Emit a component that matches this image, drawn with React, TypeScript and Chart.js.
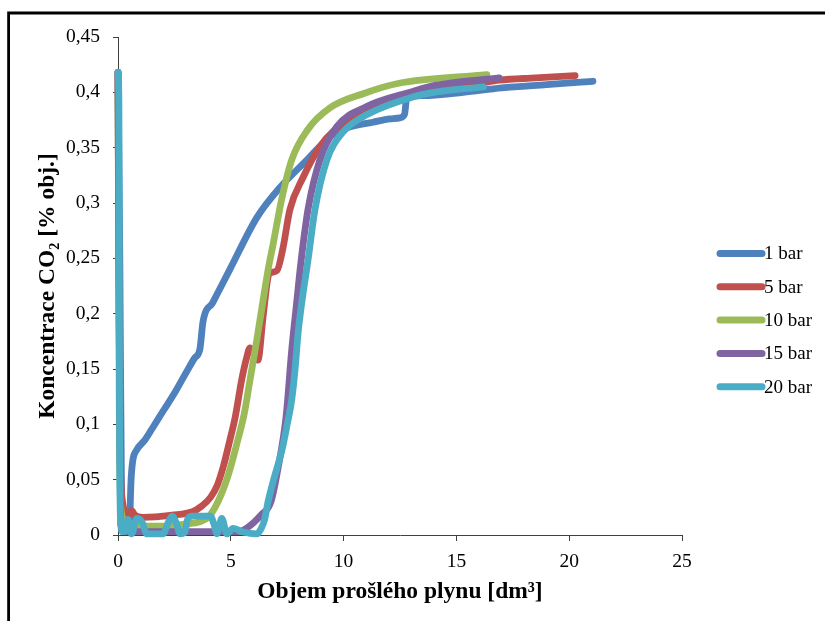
import React, { useEffect, useRef } from 'react';
import { Chart, registerables } from 'chart.js';

Chart.register(...registerables);

const seriesNames = ['1 bar', '5 bar', '10 bar', '15 bar', '20 bar'];
const seriesColors = ['#4F81BD', '#C0504D', '#9BBB59', '#8064A2', '#4BACC6'];

const bar1X = [0, 0.08, 0.15, 0.25, 0.5, 0.58, 0.66, 0.8, 1.2, 1.6, 2.0, 2.5, 3.0, 3.4, 3.63, 3.77, 4.2, 4.96, 6.16, 7.18, 8.38, 9.4, 10.15, 11.3, 12.06, 12.5, 12.7, 12.8, 13.5, 15.3, 17, 19, 21.05];
const bar1Y = [0.418, 0.25, 0.05, 0.01, 0.008, 0.05, 0.068, 0.076, 0.086, 0.099, 0.112, 0.128, 0.146, 0.16, 0.168, 0.193, 0.21, 0.24, 0.287, 0.314, 0.339, 0.36, 0.368, 0.373, 0.376, 0.377, 0.38, 0.395, 0.397, 0.4, 0.404, 0.407, 0.41];

const bar5X = [0, 0.08, 0.2, 0.45, 0.6, 0.75, 1.1, 2.4, 3.3, 3.7, 4.1, 4.4, 4.67, 4.95, 5.2, 5.48, 5.7, 5.85, 6.0, 6.2, 6.43, 6.65, 6.75, 7.05, 7.3, 7.62, 8.2, 8.95, 9.6, 10.5, 12, 14, 16, 16.9, 18.5, 20.26];
const bar5Y = [0.418, 0.1, 0.03, 0.018, 0.022, 0.018, 0.016, 0.018, 0.021, 0.026, 0.034, 0.045, 0.062, 0.085, 0.107, 0.14, 0.16, 0.169, 0.164, 0.158, 0.197, 0.233, 0.237, 0.239, 0.258, 0.294, 0.323, 0.351, 0.366, 0.377, 0.392, 0.402, 0.408, 0.411, 0.413, 0.415];

const bar10X = [0, 0.06, 0.15, 0.4, 1, 2, 3, 3.63, 4.0, 4.43, 4.9, 5.3, 5.6, 5.85, 6.15, 6.43, 6.7, 6.85, 7.25, 7.7, 8.4, 9.4, 10.9, 12.4, 16.35];
const bar10Y = [0.418, 0.1, 0.02, 0.01, 0.008, 0.008, 0.01, 0.012, 0.016, 0.03, 0.055, 0.085, 0.11, 0.14, 0.176, 0.212, 0.245, 0.26, 0.303, 0.339, 0.366, 0.386, 0.399, 0.408, 0.416];

const bar15X = [0, 0.05, 0.12, 0.3, 3, 5.3, 5.76, 6.34, 6.78, 7.1, 7.45, 7.7, 7.93, 8.1, 8.42, 8.95, 9.7, 11.0, 13.1, 14, 16.9];
const bar15Y = [0.418, 0.2, 0.01, 0.003, 0.003, 0.003, 0.007, 0.018, 0.03, 0.061, 0.107, 0.167, 0.212, 0.245, 0.294, 0.339, 0.369, 0.387, 0.401, 0.406, 0.413];

const bar20X = [0, 0.04, 0.07, 0.12, 0.2, 0.3, 0.44, 0.6, 0.84, 1.06, 1.28, 2.0, 2.2, 2.4, 2.6, 2.75, 2.95, 3.1, 3.3, 4.1, 4.25, 4.39, 4.6, 4.83, 5.1, 5.5, 6.15, 6.35, 6.5, 6.65, 6.9, 7.27, 7.5, 7.7, 7.85, 7.98, 8.16, 8.42, 8.73, 9.26, 9.97, 11.04, 13.1, 14, 16.2];
const bar20Y = [0.418, 0.39, 0.1, 0.01, 0.003, 0.003, 0.014, 0.001, 0.015, 0.012, 0.001, 0.001, 0.01, 0.017, 0.01, 0.001, 0.002, 0.015, 0.017, 0.017, 0.01, 0.001, 0.015, 0.001, 0.006, 0.003, 0.001, 0.006, 0.014, 0.03, 0.05, 0.077, 0.1, 0.122, 0.15, 0.182, 0.212, 0.248, 0.294, 0.339, 0.364, 0.38, 0.396, 0.4, 0.405];

const seriesX = [bar1X, bar5X, bar10X, bar15X, bar20X];
const seriesY = [bar1Y, bar5Y, bar10Y, bar15Y, bar20Y];

const xTickValues = [0, 5, 10, 15, 20, 25];
const yTickValues = [0, 0.05, 0.1, 0.15, 0.2, 0.25, 0.3, 0.35, 0.4, 0.45];
const yTickLabels = ['0', '0,05', '0,1', '0,15', '0,2', '0,25', '0,3', '0,35', '0,4', '0,45'];
const xTitle = 'Objem prošlého plynu [dm³]';
const yTitle = 'Koncentrace CO₂ [% obj.]';

const SERIF = "'Liberation Serif', 'Times New Roman', serif";
const AXIS_COLOR = '#404040';

const framePlugin = {
  id: 'frame',
  beforeDraw(chart: any) {
    const ctx = chart.ctx;
    ctx.save();
    ctx.fillStyle = '#ffffff';
    ctx.fillRect(0, 0, chart.width, chart.height);
    ctx.strokeStyle = '#000000';
    ctx.lineWidth = 2.8;
    ctx.beginPath();
    ctx.moveTo(8.6, chart.height + 5);
    ctx.lineTo(8.6, 13);
    ctx.lineTo(chart.width + 5, 13);
    ctx.stroke();
    ctx.restore();
  },
};

const legendPlugin = {
  id: 'customLegend',
  afterDraw(chart: any) {
    const ctx = chart.ctx;
    ctx.save();
    const x0 = 720;
    const x1 = 762;
    const yStart = 253.5;
    const gap = 33.3;
    ctx.font = `19px ${SERIF}`;
    ctx.textBaseline = 'middle';
    ctx.textAlign = 'left';
    seriesNames.forEach((name, i) => {
      const y = yStart + i * gap;
      ctx.strokeStyle = seriesColors[i];
      ctx.lineWidth = 7;
      ctx.lineCap = 'round';
      ctx.beginPath();
      ctx.moveTo(x0, y);
      ctx.lineTo(x1, y);
      ctx.stroke();
      ctx.fillStyle = '#000000';
      ctx.fillText(name, 764, y + 1);
    });
    ctx.restore();
  },
};

export default function App() {
  const ref = useRef<HTMLCanvasElement | null>(null);

  useEffect(() => {
    document.body.style.margin = '0';
    const datasets = seriesNames.map((name, i) => ({
      label: name,
      data: seriesX[i].map((x, j) => ({ x, y: seriesY[i][j] })),
      borderColor: seriesColors[i],
      backgroundColor: seriesColors[i],
      borderWidth: 6.8,
      borderCapStyle: 'round' as const,
      borderJoinStyle: 'round' as const,
      pointRadius: 0,
      pointHoverRadius: 0,
      cubicInterpolationMode: 'monotone' as const,
      fill: false,
      clip: 12,
      order: seriesNames.length - i,
    }));

    const chart = new Chart(ref.current as HTMLCanvasElement, {
      type: 'line',
      data: { datasets },
      plugins: [framePlugin, legendPlugin],
      options: {
        responsive: false,
        animation: false,
        events: [],
        layout: { padding: { left: 0, top: 37, right: 143, bottom: 0 } },
        plugins: {
          legend: { display: false },
          tooltip: { enabled: false },
        },
        scales: {
          x: {
            type: 'linear',
            min: 0,
            max: 25,
            afterBuildTicks: (scale: any) => {
              scale.ticks = xTickValues.map((v) => ({ value: v }));
            },
            afterFit: (scale: any) => {
              scale.height = 86;
            },
            border: { display: true, color: AXIS_COLOR, width: 1 },
            grid: { display: true, drawOnChartArea: false, drawTicks: true, tickLength: 6, color: AXIS_COLOR },
            ticks: {
              padding: 9,
              color: '#000000',
              font: { family: SERIF, size: 19.5 },
              maxRotation: 0,
              callback: (v: any) => String(v),
            },
            title: {
              display: true,
              text: xTitle,
              color: '#000000',
              font: { family: SERIF, size: 23.5, weight: 'bold' },
              padding: { top: 0, bottom: 15 },
            },
          },
          y: {
            type: 'linear',
            min: 0,
            max: 0.45,
            afterBuildTicks: (scale: any) => {
              scale.ticks = yTickValues.map((v) => ({ value: v }));
            },
            afterFit: (scale: any) => {
              scale.width = 118;
            },
            border: { display: true, color: AXIS_COLOR, width: 1 },
            grid: { display: true, drawOnChartArea: false, drawTicks: true, tickLength: 5, color: AXIS_COLOR },
            ticks: {
              padding: 13,
              color: '#000000',
              font: { family: SERIF, size: 19.5 },
              callback: (_v: any, idx: number) => yTickLabels[idx],
            },
            title: {
              display: true,
              text: yTitle,
              color: '#000000',
              font: { family: SERIF, size: 23.5, weight: 'bold' },
              padding: { top: 34, bottom: 0 },
            },
          },
        },
      },
    } as any);
    return () => chart.destroy();
  }, []);

  return (
    <div style={{ width: 825, height: 621, overflow: 'hidden' }}>
      <canvas ref={ref} width={825} height={621} style={{ display: 'block' }} />
    </div>
  );
}
